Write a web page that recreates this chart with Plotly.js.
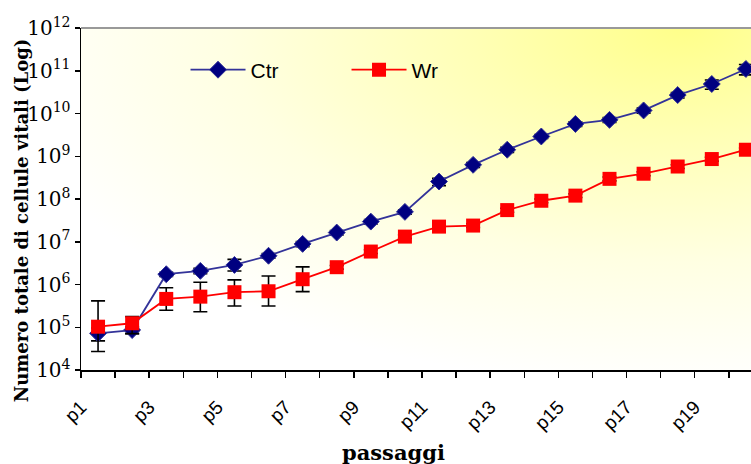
<!DOCTYPE html>
<html>
<head>
<meta charset="utf-8">
<script src="https://cdn.plot.ly/plotly-3.0.1.min.js"></script>
<style>html,body{margin:0;padding:0;background:#fff;}#chart{width:751px;height:464px;}</style>
</head>
<body>
<div id="chart"></div>
<script>
// ---- data ----
const categories = ["p1","p2","p3","p4","p5","p6","p7","p8","p9","p10","p11","p12","p13","p14","p15","p16","p17","p18","p19","p20"];
const ctrValues = [7.2e4, 8.6e4, 1.74e6, 2.08e6, 2.87e6, 4.7e6, 8.9e6, 1.64e7, 2.96e7, 5.0e7, 2.56e8, 6.3e8, 1.42e9, 2.9e9, 5.7e9, 7.1e9, 1.18e10, 2.7e10, 4.9e10, 1.1e11];
const ctrErrPlus = [2.4e4, 1.5e4, 2e5, 3e5, 1.0e6, 6e5, 1.2e6, 2e6, 3.5e6, 6e6, 5e7, 8e7, 2e8, 3e8, 7e8, 9e8, 1.6e9, 4e9, 1.2e10, 3e10];
const ctrErrMinus = [2.4e4, 1.5e4, 2e5, 3e5, 0.8e6, 6e5, 1.2e6, 2e6, 3.5e6, 6e6, 5e7, 8e7, 2e8, 3e8, 7e8, 9e8, 1.6e9, 4e9, 1.2e10, 3e10];
const wrValues = [1.03e5, 1.24e5, 4.6e5, 5.2e5, 6.6e5, 6.95e5, 1.33e6, 2.54e6, 5.9e6, 1.32e7, 2.26e7, 2.39e7, 5.5e7, 9.1e7, 1.2e8, 2.96e8, 3.9e8, 5.75e8, 8.6e8, 1.42e9];
const wrErrPlus = [3.1e5, 5.3e4, 3.8e5, 6.1e5, 6.2e5, 8.9e5, 1.25e6, 2.5e5, 6e5, 1.3e6, 2e6, 2.4e6, 6e6, 9e6, 1.2e7, 3e7, 4e7, 6e7, 9e7, 1.4e8];
const wrErrMinus = [7.6e4, 5.3e4, 2.1e5, 2.9e5, 3.45e5, 3.8e5, 6.5e5, 2.5e5, 6e5, 1.3e6, 2e6, 2.4e6, 6e6, 9e6, 1.2e7, 3e7, 4e7, 6e7, 9e7, 1.4e8];
const yTickVals = [1e4, 1e5, 1e6, 1e7, 1e8, 1e9, 1e10, 1e11, 1e12];
const yTickText = ["10<sup>4</sup>","10<sup>5</sup>","10<sup>6</sup>","10<sup>7</sup>","10<sup>8</sup>","10<sup>9</sup>","10<sup>10</sup>","10<sup>11</sup>","10<sup>12</sup>"];
const seriesNames = ["Ctr", "Wr"];
const yTitle = "Numero totale di cellule vitali (Log)";
const xTitle = "passaggi";

// ---- background gradient ----
const svg = "<svg xmlns='http://www.w3.org/2000/svg' width='670' height='342' viewBox='0 0 670 342' preserveAspectRatio='none'>" +
  "<defs><radialGradient id='g' cx='0.9' cy='0' r='1.05' gradientUnits='objectBoundingBox'>" +
  "<stop offset='0' stop-color='#FFFF8A'/><stop offset='0.3' stop-color='#FFFFB5'/>" +
  "<stop offset='0.65' stop-color='#FFFFE2'/><stop offset='1' stop-color='#FFFFFF'/>" +
  "</radialGradient></defs><rect x='0' y='0' width='670' height='342' fill='url(#g)'/></svg>";
const bgSrc = "data:image/svg+xml;base64," + btoa(svg);

const errStyle = {type: "data", symmetric: false, color: "#000000", thickness: 1.6, width: 7};

const traces = [
  {
    x: categories, y: ctrValues, name: seriesNames[0], type: "scatter", mode: "lines+markers",
    line: {color: "#333399", width: 1.8},
    marker: {symbol: "diamond", size: 13, color: "#000080", line: {color: "#333399", width: 1}},
    error_y: Object.assign({array: ctrErrPlus, arrayminus: ctrErrMinus}, errStyle)
  },
  {
    x: categories, y: wrValues, name: seriesNames[1], type: "scatter", mode: "lines+markers",
    line: {color: "#FF0000", width: 1.8},
    marker: {symbol: "square", size: 14, color: "#FF0000", line: {color: "#FF0000", width: 0}},
    error_y: Object.assign({array: wrErrPlus, arrayminus: wrErrMinus}, errStyle)
  }
];

const layout = {
  width: 751, height: 464,
  margin: {l: 81, r: 0, t: 28, b: 94},
  paper_bgcolor: "#ffffff",
  plot_bgcolor: "#ffffff",
  showlegend: true,
  legend: {
    orientation: "h", x: 0.156, y: 0.877, xanchor: "left", yanchor: "middle",
    bgcolor: "rgba(0,0,0,0)", itemwidth: 55, entrywidth: 91,
    font: {family: "Liberation Sans, Arial, sans-serif", size: 21, color: "#000"}
  },
  xaxis: {
    type: "category",
    range: [-0.5, 19.15],
    tickmode: "array",
    tickvals: categories,
    ticktext: categories.map((c, i) => (i % 2 === 0 ? c : "")),
    tickson: "boundaries",
    ticks: "outside", ticklen: 6, tickwidth: 1.5, tickcolor: "#000",
    tickangle: -45,
    ticklabelshift: -17,
    ticklabelstandoff: 17,
    tickfont: {family: "Liberation Sans, Arial, sans-serif", size: 19, color: "#000"},
    showline: true, linecolor: "#000", linewidth: 1.5,
    showgrid: false, zeroline: false
  },
  yaxis: {
    type: "log",
    range: [4, 12],
    tickmode: "array", tickvals: yTickVals, ticktext: yTickText,
    ticks: "outside", ticklen: 5, tickwidth: 1.5, tickcolor: "#000",
    tickfont: {family: "DejaVu Serif, serif", size: 20, color: "#000"},
    showline: true, linecolor: "#000", linewidth: 1.5,
    showgrid: false, zeroline: false
  },
  images: [{
    source: bgSrc, xref: "paper", yref: "paper", x: 0, y: 1, sizex: 1, sizey: 1,
    sizing: "stretch", xanchor: "left", yanchor: "top", layer: "below"
  }],
  shapes: [{
    type: "line", xref: "paper", yref: "paper", x0: 0, x1: 1, y0: 1, y1: 1,
    line: {color: "#999999", width: 2}
  }],
  annotations: [
    {
      text: yTitle, xref: "paper", yref: "paper", x: -0.089, y: 0.439,
      xanchor: "center", yanchor: "middle", textangle: -90, showarrow: false,
      font: {family: "DejaVu Serif, serif", size: 18, color: "#000", weight: "bold"}
    },
    {
      text: xTitle, xref: "paper", yref: "paper", x: 0.466, y: -0.24,
      xanchor: "center", yanchor: "middle", showarrow: false,
      font: {family: "DejaVu Serif, serif", size: 21, color: "#000", weight: "bold"}
    }
  ]
};

Plotly.newPlot("chart", traces, layout, {displayModeBar: false, staticPlot: true});
</script>
</body>
</html>
